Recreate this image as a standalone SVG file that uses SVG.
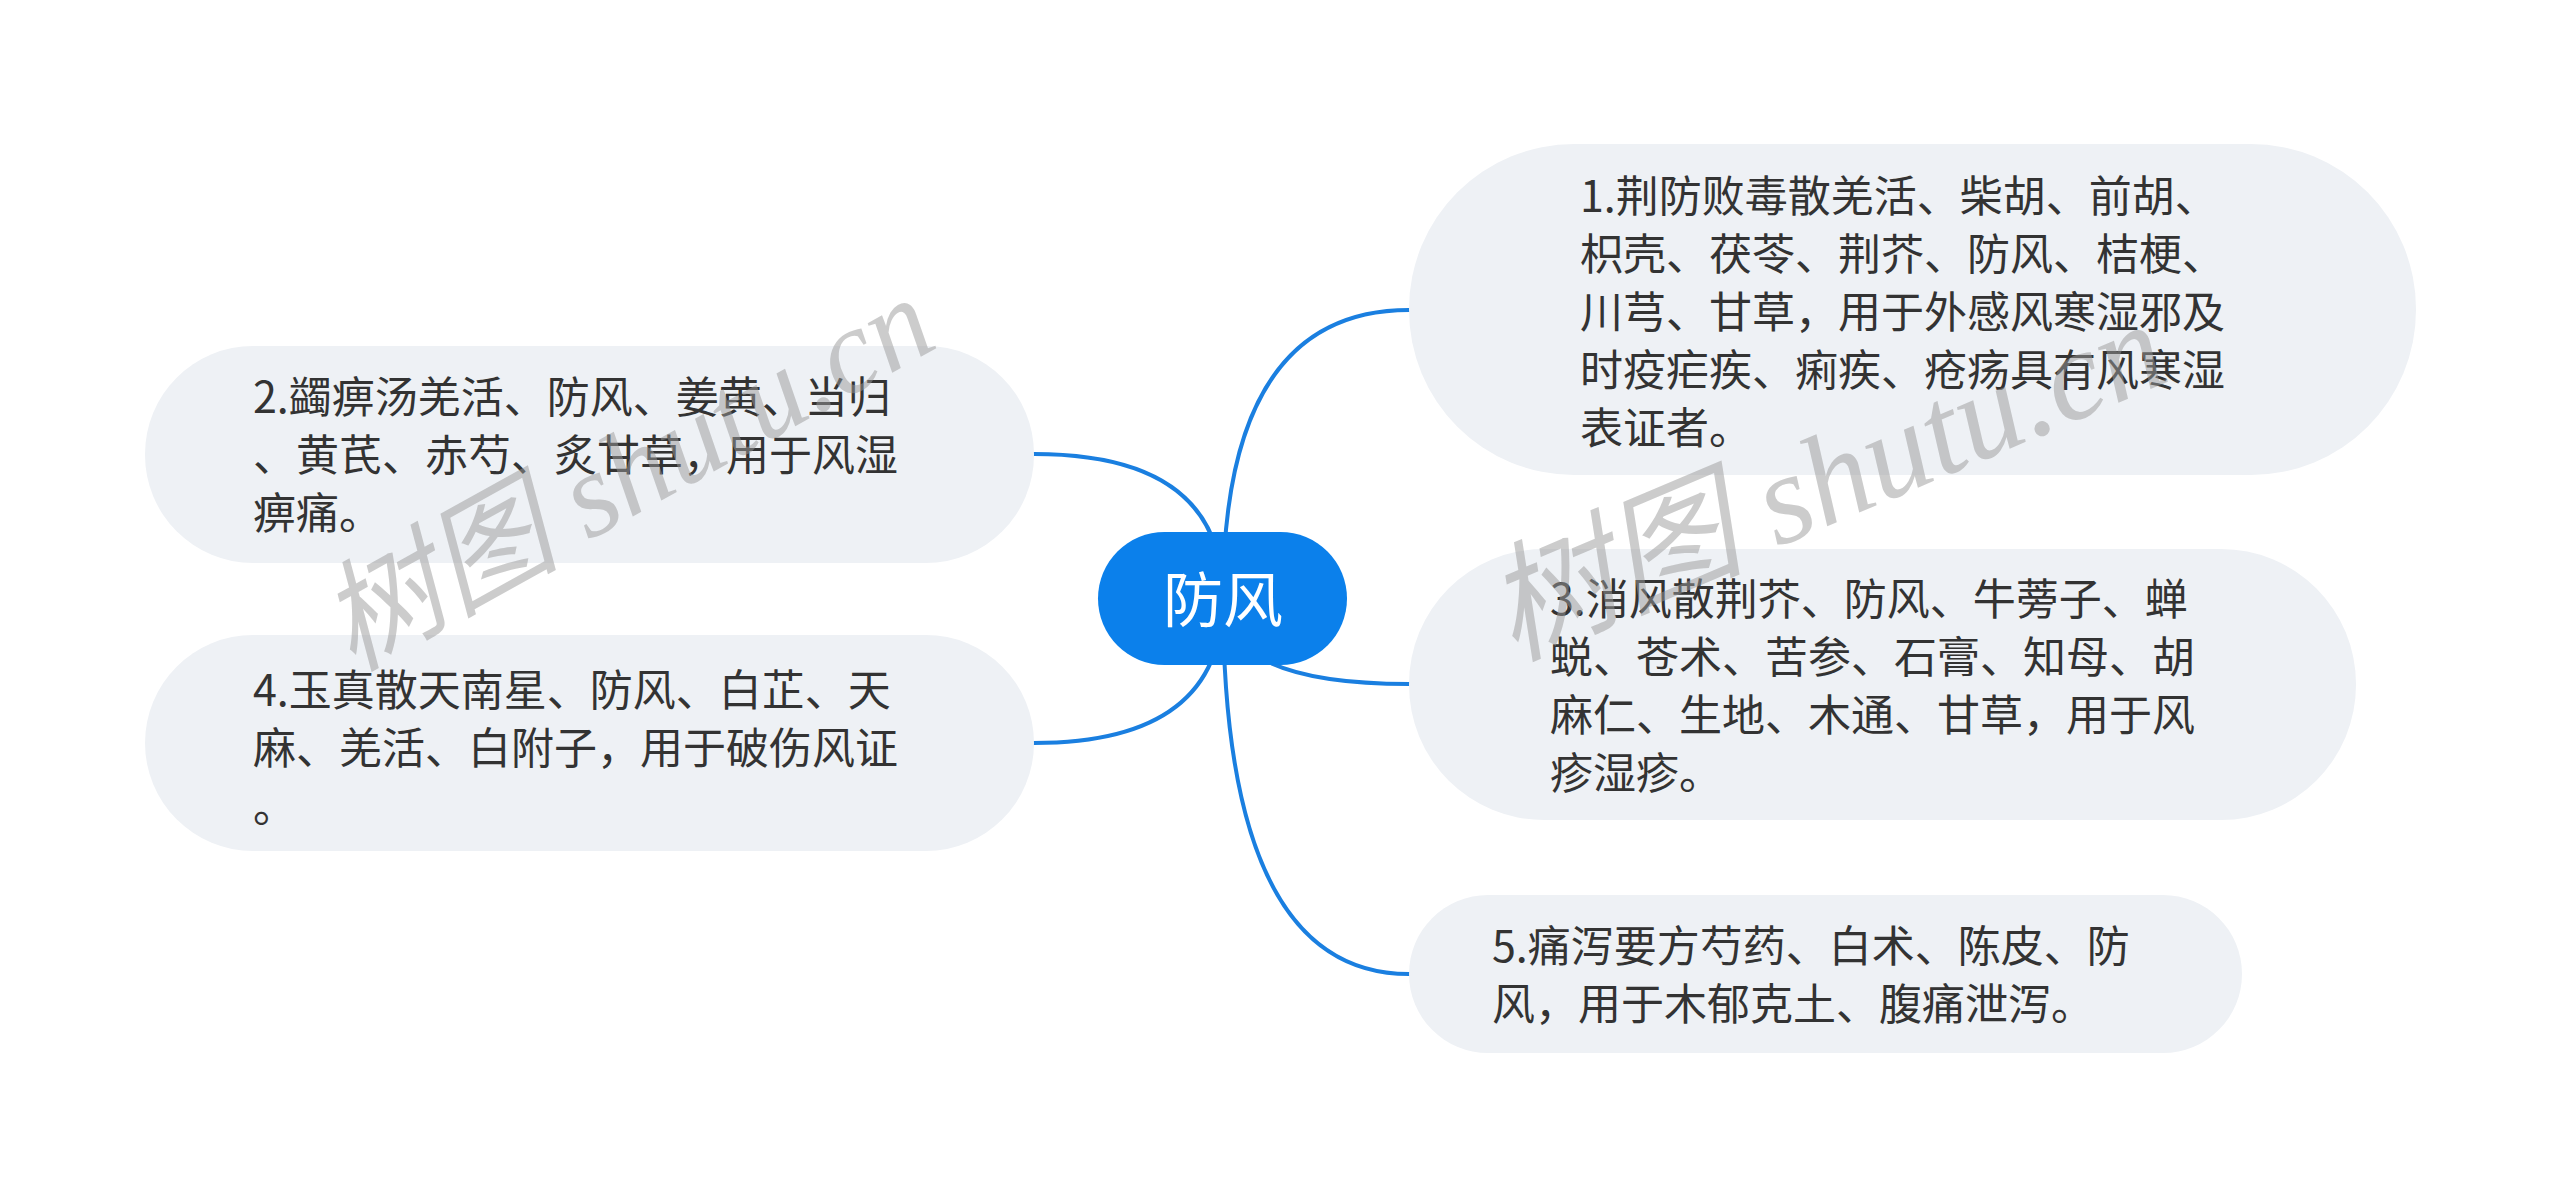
<svg xmlns="http://www.w3.org/2000/svg" width="2560" height="1198" viewBox="0 0 2560 1198">
<style>
.bg{fill:#ffffff}
.node{fill:#EEF1F5}
.txt{font-family:"Noto Sans CJK SC","Noto Sans",sans-serif;font-size:43px;fill:#333333}
.root{fill:#0B80EB}
.rtxt{font-family:"Noto Sans CJK SC","Noto Sans",sans-serif;font-size:60px;fill:#ffffff;text-anchor:middle}
.edge{fill:none;stroke:#1A7FE0;stroke-width:4;stroke-linecap:round}
.wm{font-family:"Liberation Serif","Noto Sans CJK SC",serif;font-style:italic;fill:#9a9a9a;fill-opacity:0.5}
</style>
<rect class="bg" x="0" y="0" width="2560" height="1198"/>
<g id="connectors">
<path class="edge" d="M1223,598 Q1223,310 1409,310"/>
<path class="edge" d="M1223,598 Q1223,684 1409,684"/>
<path class="edge" d="M1223,598 Q1223,974 1409,974"/>
<path class="edge" d="M1223,598 Q1223,454 1034,454"/>
<path class="edge" d="M1223,598 Q1223,743 1034,743"/>
</g>
<g id="node1">
<rect class="node" x="1409" y="144" width="1007" height="331" rx="165" ry="165"/>
<text class="txt" x="1580" y="212">1.荆防败毒散羌活、柴胡、前胡、</text>
<text class="txt" x="1580" y="270">枳壳、茯苓、荆芥、防风、桔梗、</text>
<text class="txt" x="1580" y="328">川芎、甘草，用于外感风寒湿邪及</text>
<text class="txt" x="1580" y="386">时疫疟疾、痢疾、疮疡具有风寒湿</text>
<text class="txt" x="1580" y="444">表证者。</text>
</g>
<g id="node2">
<rect class="node" x="145" y="346" width="889" height="217" rx="108" ry="108"/>
<text class="txt" x="253" y="413">2.蠲痹汤羌活、防风、姜黄、当归</text>
<text class="txt" x="253" y="471">、黄芪、赤芍、炙甘草，用于风湿</text>
<text class="txt" x="253" y="529">痹痛。</text>
</g>
<g id="node3">
<rect class="node" x="1409" y="549" width="947" height="271" rx="135" ry="135"/>
<text class="txt" x="1550" y="615">3.消风散荆芥、防风、牛蒡子、蝉</text>
<text class="txt" x="1550" y="673">蜕、苍术、苦参、石膏、知母、胡</text>
<text class="txt" x="1550" y="731">麻仁、生地、木通、甘草，用于风</text>
<text class="txt" x="1550" y="789">疹湿疹。</text>
</g>
<g id="node4">
<rect class="node" x="145" y="635" width="889" height="216" rx="108" ry="108"/>
<text class="txt" x="253" y="706">4.玉真散天南星、防风、白芷、天</text>
<text class="txt" x="253" y="764">麻、羌活、白附子，用于破伤风证</text>
<text class="txt" x="253" y="822">。</text>
</g>
<g id="node5">
<rect class="node" x="1409" y="895" width="833" height="158" rx="79" ry="79"/>
<text class="txt" x="1492" y="962">5.痛泻要方芍药、白术、陈皮、防</text>
<text class="txt" x="1492" y="1020">风，用于木郁克土、腹痛泄泻。</text>
</g>
<g id="root">
<rect class="root" x="1098" y="532" width="249" height="133" rx="66.5" ry="66.5"/>
<text class="rtxt" x="1223" y="622">防风</text>
</g>
<g id="watermarks">
<text class="wm" font-size="120" transform="translate(352,672) rotate(-29)">树图 shutu.cn</text>
<text class="wm" font-size="128" transform="translate(1512,660) rotate(-23)">树图 shutu.cn</text>
</g>
</svg>
